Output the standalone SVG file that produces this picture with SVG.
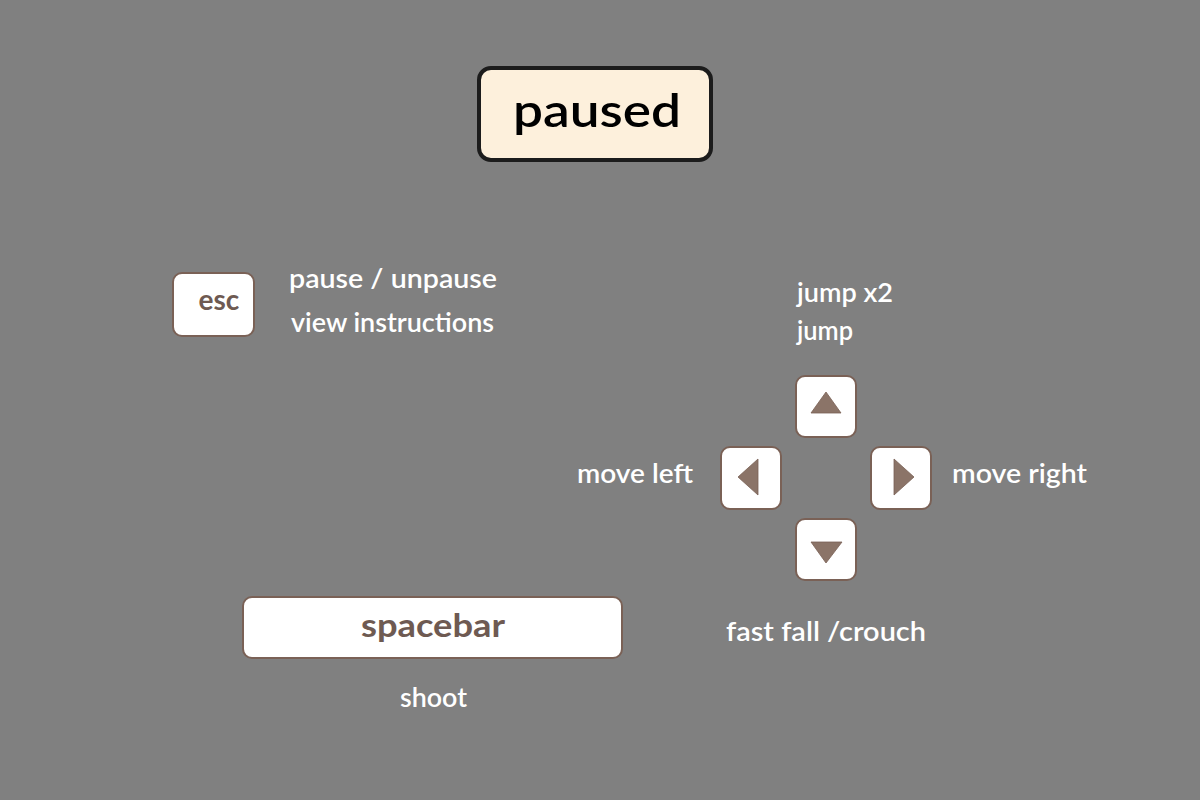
<svg xmlns="http://www.w3.org/2000/svg" width="1200" height="800" viewBox="0 0 1200 800">
<style>
.key{fill:#ffffff;stroke:#7a6156;stroke-width:2}
.tri{fill:#8b7468;stroke:#7a6156;stroke-width:0.8}
.lbl{font-family:Lato,"Open Sans",sans-serif;font-size:26px;font-weight:600;fill:#ffffff}
.keytxt{font-family:Lato,"Open Sans",sans-serif;font-weight:700;fill:#6e5a52}
</style>
<rect x="0" y="0" width="1200" height="800" fill="#808080"/>
<g id="title">
<rect x="479" y="68" width="232" height="92" rx="12" fill="#fdf0dc" stroke="#1c1c1c" stroke-width="4"/>
<text x="513" y="127" textLength="168" lengthAdjust="spacingAndGlyphs" font-family="Lato,'Open Sans',sans-serif" font-size="46" font-weight="600" fill="#000000">paused</text>
</g>
<g id="esc">
<rect class="key" x="173" y="273" width="81" height="63" rx="9"/>
<text class="keytxt" x="219" y="310" font-size="28" text-anchor="middle">esc</text>
</g>
<g id="esc-labels">
<text class="lbl" x="289" y="288" textLength="208" lengthAdjust="spacingAndGlyphs">pause / unpause</text>
<text class="lbl" x="291" y="332" textLength="203" lengthAdjust="spacingAndGlyphs">view instructions</text>
</g>
<g id="key-up">
<rect class="key" x="796" y="376" width="60" height="61" rx="9"/>
<polygon class="tri" points="811,413 841,413 826,392"/>
</g>
<g id="key-left">
<rect class="key" x="721" y="447" width="60" height="62" rx="9"/>
<polygon class="tri" points="738,477 758,459 758,495"/>
</g>
<g id="key-right">
<rect class="key" x="871" y="447" width="60" height="62" rx="9"/>
<polygon class="tri" points="914,477 894,459 894,495"/>
</g>
<g id="key-down">
<rect class="key" x="796" y="519" width="60" height="61" rx="9"/>
<polygon class="tri" points="811,542 842,542 826,563"/>
</g>
<g id="arrow-labels">
<text class="lbl" x="797" y="302" textLength="96" lengthAdjust="spacingAndGlyphs">jump x2</text>
<text class="lbl" x="797" y="340" textLength="56" lengthAdjust="spacingAndGlyphs">jump</text>
<text class="lbl" x="577" y="483" textLength="116" lengthAdjust="spacingAndGlyphs">move left</text>
<text class="lbl" x="952" y="483" textLength="135" lengthAdjust="spacingAndGlyphs">move right</text>
<text class="lbl" x="726" y="641" textLength="200" lengthAdjust="spacingAndGlyphs">fast fall /crouch</text>
</g>
<g id="spacebar">
<rect class="key" x="243" y="597" width="379" height="61" rx="9"/>
<text class="keytxt" x="361" y="637" font-size="32" font-weight="600" textLength="144" lengthAdjust="spacingAndGlyphs">spacebar</text>
</g>
<g id="spacebar-label">
<text class="lbl" x="400" y="707" textLength="67" lengthAdjust="spacingAndGlyphs">shoot</text>
</g>
<g id="connectors"></g>
</svg>
